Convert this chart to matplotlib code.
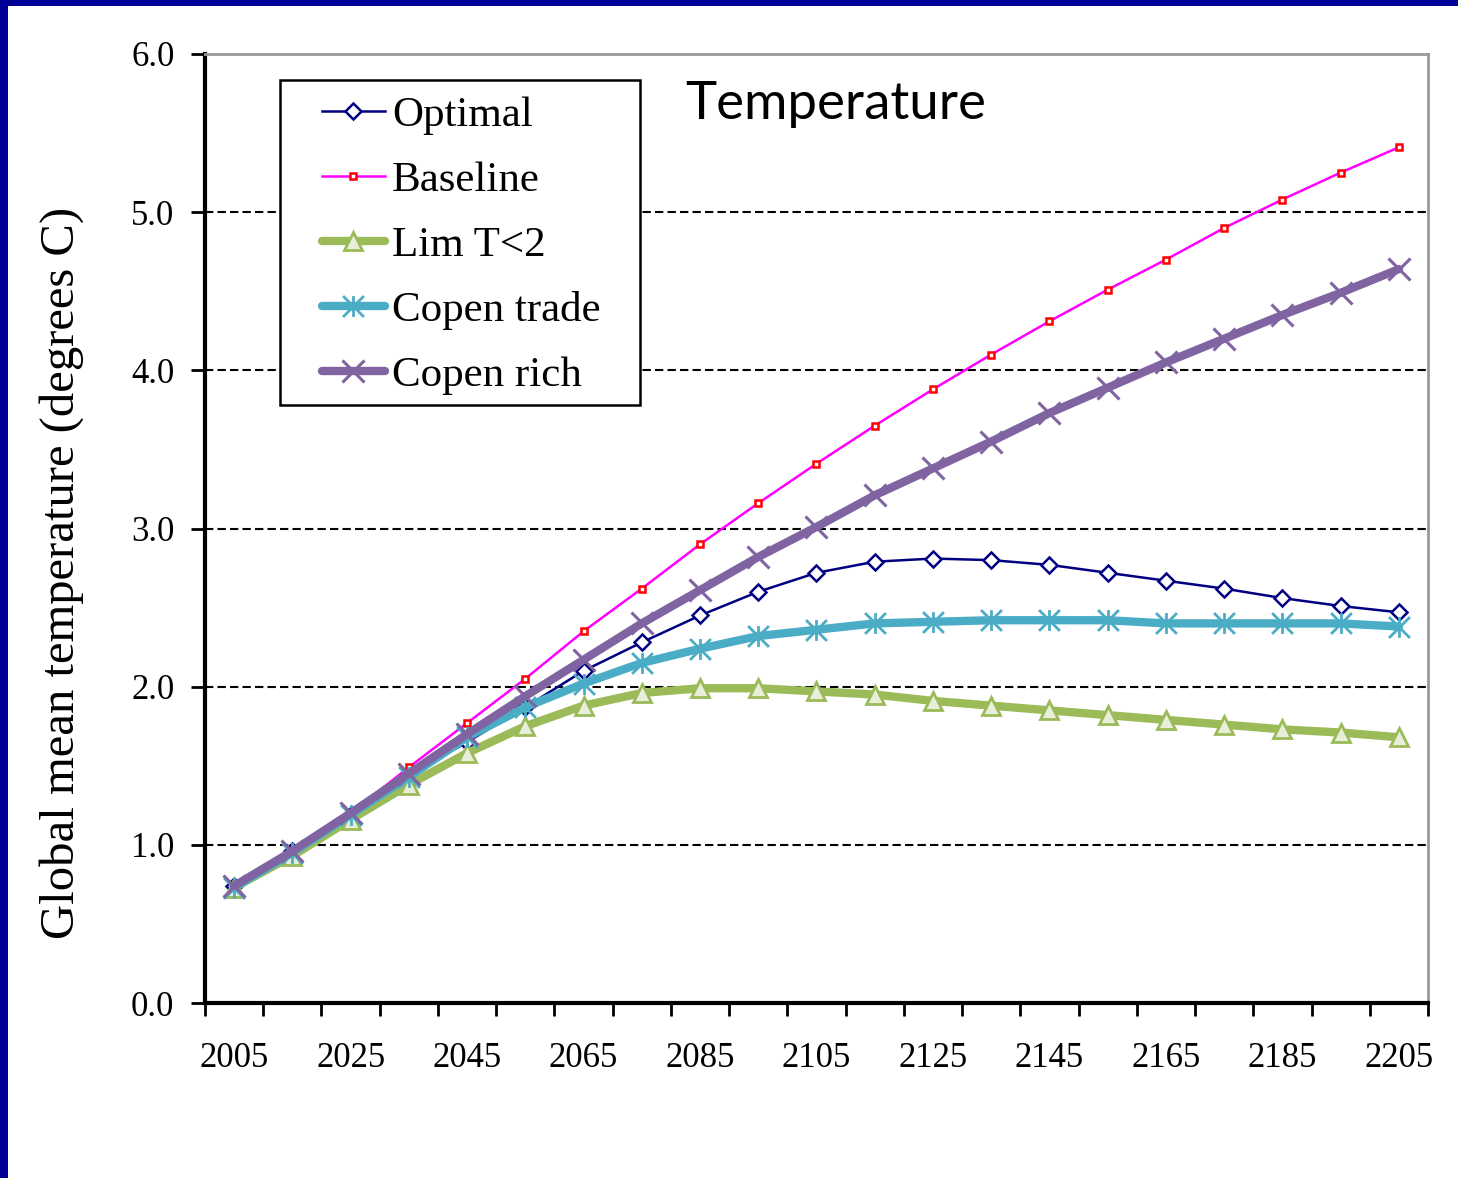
import matplotlib
matplotlib.use("Agg")
import matplotlib.pyplot as plt
from matplotlib.path import Path
from matplotlib.patches import Rectangle
import numpy as np

years = list(range(2005, 2206, 10))
tick_labels = [str(y) for y in years[::2]]

optimal = [0.74, 0.96, 1.19, 1.44, 1.65, 1.87, 2.10, 2.28, 2.45, 2.60, 2.72,
           2.79, 2.81, 2.80, 2.77, 2.72, 2.67, 2.62, 2.56, 2.51, 2.47]
baseline = [0.74, 0.96, 1.20, 1.49, 1.77, 2.05, 2.35, 2.62, 2.90, 3.16, 3.41,
            3.65, 3.88, 4.10, 4.31, 4.51, 4.70, 4.90, 5.08, 5.25, 5.41]
lim_t2 = [0.73, 0.93, 1.16, 1.38, 1.58, 1.75, 1.88, 1.96, 1.99, 1.99, 1.97,
          1.95, 1.91, 1.88, 1.85, 1.82, 1.79, 1.76, 1.73, 1.71, 1.68]
copen_trade = [0.73, 0.95, 1.19, 1.43, 1.68, 1.87, 2.02, 2.15, 2.24, 2.32, 2.36,
               2.40, 2.41, 2.42, 2.42, 2.42, 2.40, 2.40, 2.40, 2.40, 2.38]
copen_rich = [0.74, 0.96, 1.20, 1.45, 1.70, 1.94, 2.17, 2.40, 2.61, 2.82, 3.01,
              3.21, 3.38, 3.55, 3.73, 3.89, 4.05, 4.20, 4.35, 4.49, 4.64]

serif = ["Liberation Serif", "DejaVu Serif"]

# asterisk marker (vertical line + X)
star = Path([(0, -1), (0, 1), (-1, -1), (1, 1), (-1, 1), (1, -1)],
            [Path.MOVETO, Path.LINETO, Path.MOVETO, Path.LINETO, Path.MOVETO, Path.LINETO])

fig = plt.figure(figsize=(14.58, 11.78), dpi=100)
ax = fig.add_axes([205/1458, 1 - 1003/1178, (1428-205)/1458, (1003-54)/1178])

x = np.arange(len(years))

ax.plot(x, optimal, color="#000080", lw=1.8, marker="D", ms=8.5, mfc="white",
        mec="#000080", mew=1.8, label="Optimal", zorder=3)
ax.plot(x, baseline, color="#FF00FF", lw=1.8, marker="s", ms=5, mfc="white",
        mec="#FF0000", mew=1.8, label="Baseline", zorder=4)
ax.plot(x, lim_t2, color="#9BBB59", lw=6, marker="^", ms=13, mfc="#E8EEDA",
        mec="#9BBB59", mew=2, label="Lim T<2", zorder=5, solid_capstyle="round")
ax.plot(x, copen_trade, color="#4BACC6", lw=6, marker=star, ms=15, mfc="none",
        mec="#4BACC6", mew=2, label="Copen trade", zorder=6, solid_capstyle="round")
ax.plot(x, copen_rich, color="#8064A2", lw=6, marker="x", ms=16,
        mec="#8064A2", mew=2.2, label="Copen rich", zorder=7, solid_capstyle="round")

ax.set_xlim(-0.5, len(years) - 0.5)
ax.set_ylim(0, 6)

# major ticks at category boundaries, labels at category centres
ax.set_xticks(np.arange(-0.5, len(years), 1.0))
ax.set_xticklabels([])
ax.set_xticks(x[::2], minor=True)
ax.set_xticklabels(tick_labels, minor=True, fontsize=25, family=serif)
ax.tick_params(axis="x", which="major", direction="out", length=9, width=2, color="black")
ax.tick_params(axis="x", which="minor", length=0, pad=28)

ax.set_yticks(np.arange(0, 6.01, 1.0))
ax.set_yticklabels([f"{v:.1f}" for v in np.arange(0, 6.01, 1.0)], fontsize=25, family=serif)
ax.tick_params(axis="y", direction="out", length=10, width=2, pad=12)

ax.yaxis.grid(True, color="black", linestyle=(0, (4, 2)), lw=1.5)
ax.set_axisbelow(True)

for s in ["left", "bottom"]:
    ax.spines[s].set_linewidth(3)
    ax.spines[s].set_color("black")
for s in ["top", "right"]:
    ax.spines[s].set_linewidth(2)
    ax.spines[s].set_color("#999999")

ax.set_ylabel("Global mean temperature (degrees C)", fontsize=35, family=serif)
ax.yaxis.set_label_coords((84 - 205) / 1223, (1003 - 572.5) / 949)

fig.text(836/1458, 1 - 105/1178, "Temperature", fontsize=38, family=["Lato", "DejaVu Sans"],
         ha="center", va="center")

# legend frame
fig.patches.append(Rectangle((280/1458, 1 - 405/1178), 360/1458, 325/1178,
                             transform=fig.transFigure, facecolor="white",
                             edgecolor="black", lw=1.8, zorder=10))
leg = fig.legend(loc="upper left", bbox_to_anchor=(322/1458, 1 - 96/1178),
                 bbox_transform=fig.transFigure, frameon=False,
                 prop={"family": serif, "size": 31}, handlelength=1.46,
                 handletextpad=0.16, labelspacing=0.6, borderpad=0, borderaxespad=0)
leg.set_zorder(11)

# blue frame
fig.patches.append(Rectangle((0, 0), 8/1458, 1, transform=fig.transFigure,
                             facecolor="#000099", edgecolor="none", zorder=20))
fig.patches.append(Rectangle((0, 1 - 6/1178), 1, 6/1178, transform=fig.transFigure,
                             facecolor="#000099", edgecolor="none", zorder=20))

fig.savefig("out.png", dpi=100)
